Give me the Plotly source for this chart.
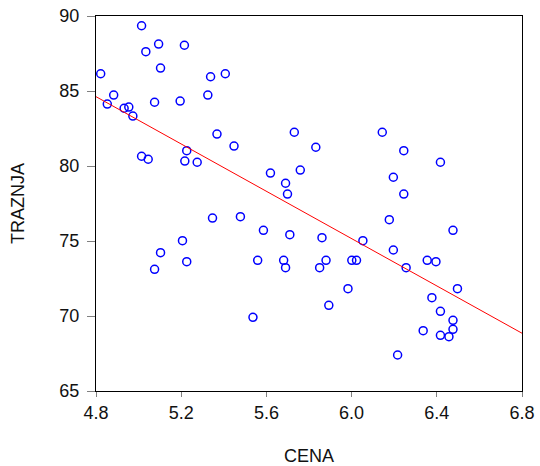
import plotly.graph_objects as go

cena = [4.822, 5.014, 5.094, 5.215, 5.034, 5.103, 5.338, 5.407, 4.883, 5.325,
        4.853, 5.195, 5.075, 4.932, 4.954, 4.973, 5.368, 5.731, 5.448, 5.226,
        5.014, 5.045, 5.217, 5.275, 5.759, 5.619, 5.690, 5.699, 6.144, 5.832,
        6.245, 6.417, 6.196, 6.245, 5.347, 5.478, 5.586, 5.710, 5.206, 5.103,
        5.226, 5.075, 5.559, 5.681, 5.690, 5.537, 6.177, 6.476, 5.861, 6.053,
        6.196, 5.880, 5.850, 6.001, 6.023, 6.256, 6.355, 6.396, 5.983, 6.497,
        6.377, 5.893, 6.417, 6.476, 6.476, 6.336, 6.417, 6.457, 6.216]
traznja = [86.15, 89.35, 88.13, 88.05, 87.62, 86.53, 85.95, 86.15, 84.73, 84.73,
           84.13, 84.33, 84.25, 83.85, 83.93, 83.33, 82.13, 82.25, 81.33, 81.02,
           80.65, 80.45, 80.33, 80.25, 79.73, 79.53, 78.85, 78.13, 82.25, 81.25,
           81.02, 80.25, 79.25, 78.13, 76.53, 76.62, 75.71, 75.42, 75.02, 74.22,
           73.62, 73.11, 73.71, 73.71, 73.22, 69.91, 76.42, 75.71, 75.22, 75.02,
           74.40, 73.71, 73.22, 73.71, 73.71, 73.22, 73.71, 73.62, 71.82, 71.82,
           71.22, 70.71, 70.31, 69.71, 69.11, 69.02, 68.71, 68.62, 67.40]

x_ticks = [4.8, 5.2, 5.6, 6.0, 6.4, 6.8]
x_tick_labels = ["4.8", "5.2", "5.6", "6.0", "6.4", "6.8"]
y_ticks = [65, 70, 75, 80, 85, 90]

# fitted regression line (as drawn in the reference)
fit_intercept = 122.47
fit_slope = -7.885
line_x = [4.8, 6.8]
line_y = [fit_intercept + fit_slope * v for v in line_x]

FONT = "Liberation Sans, Arial"
TXT = dict(family=FONT, size=18, color="#111")

fig = go.Figure()
fig.add_trace(go.Scatter(
    x=cena, y=traznja, mode="markers",
    marker=dict(symbol="circle-open", color="#0000ff", size=8, line=dict(width=1.5, color="#0000ff")),
    showlegend=False, cliponaxis=False))
fig.add_trace(go.Scatter(
    x=line_x, y=line_y, mode="lines",
    line=dict(color="#ff0000", width=1), showlegend=False))

axis_common = dict(showgrid=False, zeroline=False, showline=True, linecolor="black",
                   linewidth=1, mirror=True, ticks="outside", automargin=False,
                   tickcolor="#808080", tickfont=TXT)
fig.update_xaxes(range=[4.8, 6.8], tickvals=x_ticks, ticktext=x_tick_labels, ticklen=5,
                 title=dict(text="CENA", font=TXT, standoff=28),
                 **axis_common)
fig.update_yaxes(range=[65, 90], tickvals=y_ticks, ticklen=8, ticklabelstandoff=4,
                 title=dict(text="TRAZNJA", font=TXT, standoff=30),
                 **axis_common)
fig.update_layout(width=540, height=466, margin=dict(l=96, r=18, t=16, b=75),
                  paper_bgcolor="white", plot_bgcolor="white")
fig.write_html("out.html", config={"displayModeBar": False},
               post_script="document.body.style.margin='0';document.body.style.overflow='hidden';")
